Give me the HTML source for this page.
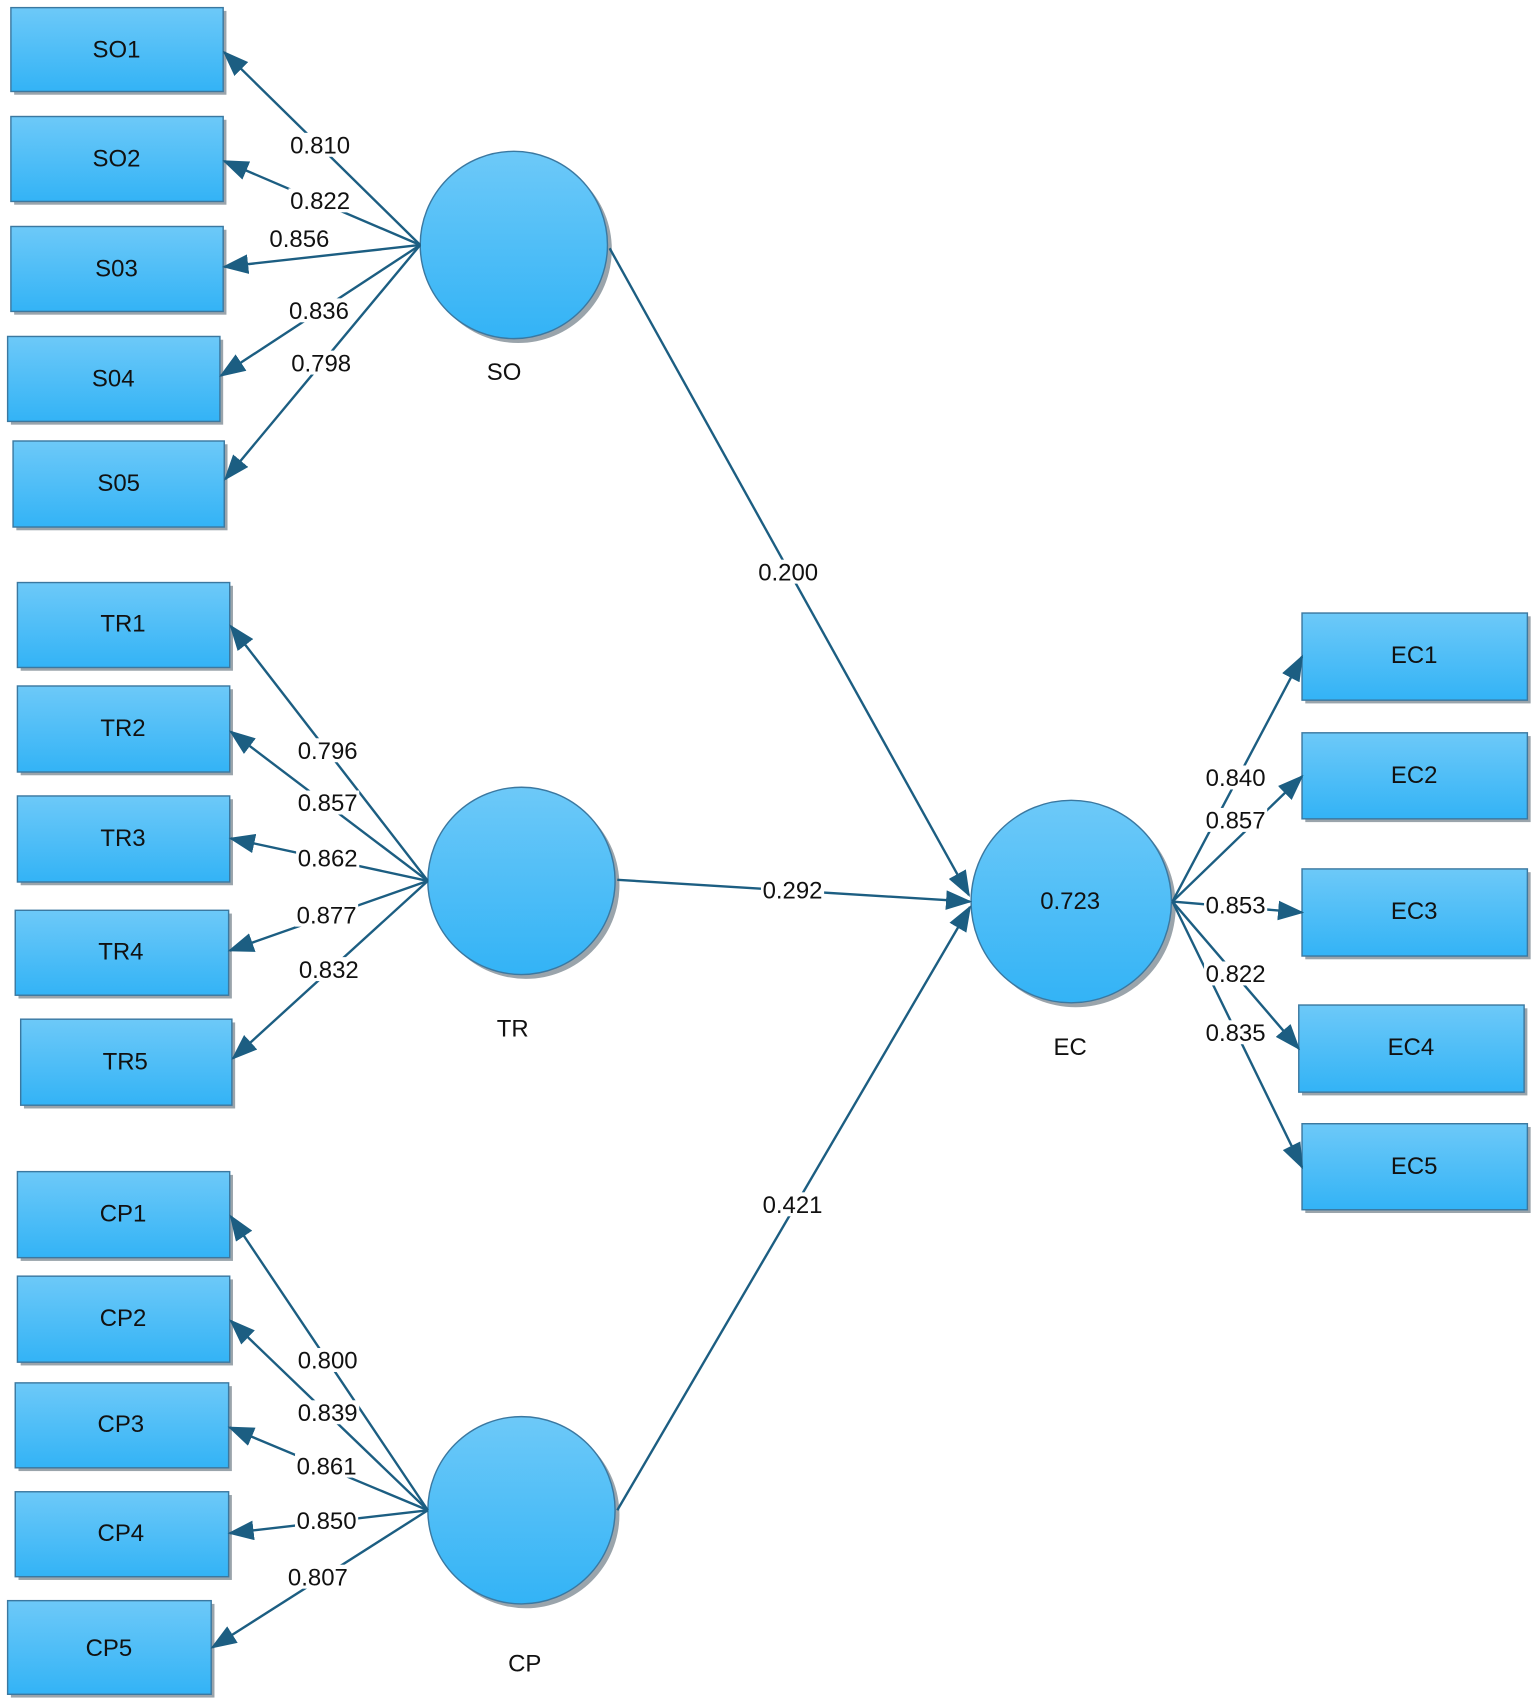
<!DOCTYPE html>
<html><head><meta charset="utf-8"><style>
html,body{margin:0;padding:0;background:#fff;}
svg{display:block;}
text{font-family:"Liberation Sans",sans-serif;fill:#111;}
</style></head><body>
<svg width="1535" height="1703" viewBox="0 0 1410 1564" preserveAspectRatio="none" xmlns="http://www.w3.org/2000/svg">
<defs>
<linearGradient id="g" x1="0" y1="0" x2="0" y2="1"><stop offset="0" stop-color="#6dc9f8"/><stop offset="1" stop-color="#33b3f6"/></linearGradient>
<marker id="a" markerUnits="userSpaceOnUse" markerWidth="24" markerHeight="18" refX="22" refY="9" orient="auto"><path d="M0,0 L24,9 L0,18 Z" fill="#1c5e82"/></marker>
</defs>
<g fill="#9aa4ab">
<rect x="13" y="10" width="195" height="77"/><rect x="13" y="110" width="195" height="78"/><rect x="13" y="211" width="195" height="78"/><rect x="10" y="312" width="195" height="78"/><rect x="15" y="408" width="194" height="79"/>
<rect x="19" y="538" width="195" height="78"/><rect x="19" y="633" width="195" height="79"/><rect x="19" y="734" width="195" height="79"/><rect x="17" y="839" width="196" height="78"/><rect x="22" y="939" width="194" height="79"/>
<rect x="19" y="1079" width="195" height="79"/><rect x="19" y="1175" width="195" height="79"/><rect x="17" y="1273" width="196" height="78"/><rect x="17" y="1373" width="196" height="78"/><rect x="10" y="1473" width="187" height="86"/>
<rect x="1199" y="566" width="207" height="80"/><rect x="1199" y="676" width="207" height="79"/><rect x="1199" y="801" width="207" height="80"/><rect x="1196" y="926" width="207" height="80"/><rect x="1199" y="1035" width="207" height="79"/>
<circle cx="476" cy="229" r="86"/><circle cx="483" cy="813" r="86"/><circle cx="483" cy="1391" r="86"/><ellipse cx="988" cy="832" rx="92" ry="93"/>
</g>
<g fill="url(#g)" stroke="#3b78a0" stroke-width="1.3">
<rect x="10" y="7" width="195" height="77"/><rect x="10" y="107" width="195" height="78"/><rect x="10" y="208" width="195" height="78"/><rect x="7" y="309" width="195" height="78"/><rect x="12" y="405" width="194" height="79"/>
<rect x="16" y="535" width="195" height="78"/><rect x="16" y="630" width="195" height="79"/><rect x="16" y="731" width="195" height="79"/><rect x="14" y="836" width="196" height="78"/><rect x="19" y="936" width="194" height="79"/>
<rect x="16" y="1076" width="195" height="79"/><rect x="16" y="1172" width="195" height="79"/><rect x="14" y="1270" width="196" height="78"/><rect x="14" y="1370" width="196" height="78"/><rect x="7" y="1470" width="187" height="86"/>
<rect x="1196" y="563" width="207" height="80"/><rect x="1196" y="673" width="207" height="79"/><rect x="1196" y="798" width="207" height="80"/><rect x="1193" y="923" width="207" height="80"/><rect x="1196" y="1032" width="207" height="79"/>
<circle cx="472" cy="225" r="86"/><circle cx="479" cy="809" r="86"/><circle cx="479" cy="1387" r="86"/><ellipse cx="984" cy="828" rx="92" ry="93"/>
</g>
<g stroke="#1c5e82" stroke-width="2.2" fill="none" marker-end="url(#a)">
<line x1="386" y1="225" x2="206" y2="48"/><line x1="386" y1="225" x2="206" y2="148"/><line x1="386" y1="225" x2="206" y2="245"/><line x1="386" y1="225" x2="203" y2="345"/><line x1="386" y1="225" x2="207" y2="440"/>
<line x1="393" y1="809" x2="212" y2="575"/><line x1="393" y1="809" x2="212" y2="672"/><line x1="393" y1="809" x2="212" y2="770"/><line x1="393" y1="809" x2="211" y2="873"/><line x1="393" y1="809" x2="214" y2="972"/>
<line x1="393" y1="1387" x2="212" y2="1117"/><line x1="393" y1="1387" x2="212" y2="1213"/><line x1="393" y1="1387" x2="211" y2="1311"/><line x1="393" y1="1387" x2="211" y2="1408"/><line x1="393" y1="1387" x2="195" y2="1513"/>
<line x1="560" y1="228" x2="890" y2="822"/><line x1="567" y1="808" x2="891" y2="828"/><line x1="567" y1="1387" x2="891" y2="833"/>
<line x1="1077" y1="828" x2="1196" y2="603"/><line x1="1077" y1="828" x2="1196" y2="713"/><line x1="1077" y1="828" x2="1196" y2="838"/><line x1="1077" y1="828" x2="1193" y2="963"/><line x1="1077" y1="828" x2="1196" y2="1072"/>
</g>
<g font-size="22" text-anchor="middle">
<g fill="#fff" stroke="none">
<rect x="265" y="122" width="58" height="22"/><rect x="265" y="173" width="58" height="22"/><rect x="246" y="208" width="58" height="22"/><rect x="264" y="274" width="58" height="22"/><rect x="266" y="322" width="58" height="22"/>
<rect x="272" y="678" width="58" height="22"/><rect x="272" y="726" width="58" height="22"/><rect x="272" y="777" width="58" height="22"/><rect x="271" y="829" width="58" height="22"/><rect x="273" y="879" width="58" height="22"/>
<rect x="272" y="1238" width="58" height="22"/><rect x="272" y="1286" width="58" height="22"/><rect x="271" y="1335" width="58" height="22"/><rect x="271" y="1385" width="58" height="22"/><rect x="263" y="1437" width="58" height="22"/>
<rect x="695" y="514" width="58" height="22"/><rect x="699" y="806" width="58" height="22"/><rect x="699" y="1095" width="58" height="22"/>
<rect x="1106" y="703" width="58" height="22"/><rect x="1106" y="742" width="58" height="22"/><rect x="1106" y="820" width="58" height="22"/><rect x="1106" y="883" width="58" height="22"/><rect x="1106" y="937" width="58" height="22"/>
</g>
<text x="294" y="141">0.810</text><text x="294" y="192">0.822</text><text x="275" y="227">0.856</text><text x="293" y="293">0.836</text><text x="295" y="341">0.798</text>
<text x="301" y="697">0.796</text><text x="301" y="745">0.857</text><text x="301" y="796">0.862</text><text x="300" y="848">0.877</text><text x="302" y="898">0.832</text>
<text x="301" y="1257">0.800</text><text x="301" y="1305">0.839</text><text x="300" y="1354">0.861</text><text x="300" y="1404">0.850</text><text x="292" y="1456">0.807</text>
<text x="724" y="533">0.200</text><text x="728" y="825">0.292</text><text x="728" y="1114">0.421</text>
<text x="1135" y="722">0.840</text><text x="1135" y="761">0.857</text><text x="1135" y="839">0.853</text><text x="1135" y="902">0.822</text><text x="1135" y="956">0.835</text>
<text x="983" y="835">0.723</text>
<text x="463" y="349">SO</text><text x="471" y="952">TR</text><text x="482" y="1535">CP</text><text x="983" y="969">EC</text>
<text x="107" y="53">SO1</text><text x="107" y="153">SO2</text><text x="107" y="254">S03</text><text x="104" y="355">S04</text><text x="109" y="451">S05</text>
<text x="113" y="580">TR1</text><text x="113" y="676">TR2</text><text x="113" y="777">TR3</text><text x="111" y="881">TR4</text><text x="115" y="982">TR5</text>
<text x="113" y="1122">CP1</text><text x="113" y="1218">CP2</text><text x="111" y="1315">CP3</text><text x="111" y="1415">CP4</text><text x="100" y="1521">CP5</text>
<text x="1299" y="609">EC1</text><text x="1299" y="719">EC2</text><text x="1299" y="844">EC3</text><text x="1296" y="969">EC4</text><text x="1299" y="1078">EC5</text>
</g>
</svg>
</body></html>
